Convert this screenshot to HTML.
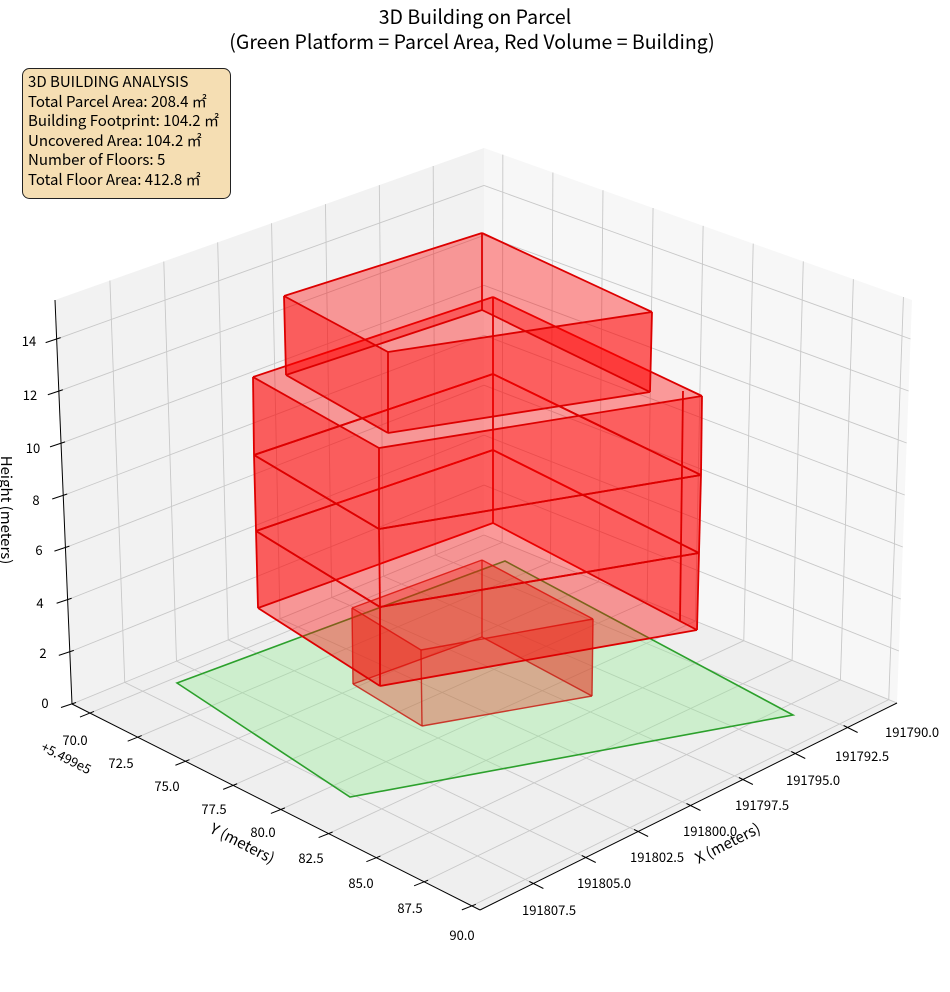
<!DOCTYPE html>
<html><head><meta charset="utf-8"><style>
html,body{margin:0;padding:0;background:#fff;}
svg{display:block;font-family:"Noto Sans CJK JP","Liberation Sans",sans-serif;}
</style></head><body>
<svg id="s" width="950" height="992" viewBox="0 0 950 992" xmlns="http://www.w3.org/2000/svg">
<g id="panes">
<polygon points="72,704 55,300 484,148 484,535" fill="#f2f2f2"/>
<polygon points="484,535 484,148 912,300 897,703" fill="#f7f7f7"/>
<polygon points="72,704 484,535 897,703 480,910" fill="#efefef"/>
</g>
<g id="grid" stroke="#c8c8c8" stroke-width="0.9" fill="none"></g>
<g id="axes" stroke="#000" stroke-width="1" fill="none">
<line x1="72" y1="704" x2="55" y2="300"/>
<line x1="72" y1="704" x2="480" y2="910"/>
<line x1="480" y1="910" x2="897" y2="703"/>
</g>
<g id="ticks" stroke="#000" stroke-width="1"></g>
<polygon points="177,683 505,561 793,715 350,797" fill="rgba(144,238,144,0.35)" stroke="#2ca02c" stroke-width="1.6"/>
<g id="boxes"></g>
<g font-size="13" fill="#000">
<text x="45" y="708" text-anchor="middle">0</text>
<text x="43" y="658" text-anchor="middle">2</text>
<text x="40" y="608" text-anchor="middle">4</text>
<text x="39" y="555" text-anchor="middle">6</text>
<text x="36" y="505" text-anchor="middle">8</text>
<text x="33" y="453" text-anchor="middle">10</text>
<text x="30" y="400" text-anchor="middle">12</text>
<text x="29" y="346" text-anchor="middle">14</text>
<text x="75" y="745" text-anchor="middle">70.0</text>
<text x="121" y="768" text-anchor="middle">72.5</text>
<text x="167" y="791" text-anchor="middle">75.0</text>
<text x="214" y="814" text-anchor="middle">77.5</text>
<text x="263" y="837" text-anchor="middle">80.0</text>
<text x="311" y="863" text-anchor="middle">82.5</text>
<text x="361" y="888" text-anchor="middle">85.0</text>
<text x="410" y="913" text-anchor="middle">87.5</text>
<text x="462" y="940" text-anchor="middle">90.0</text>
<text x="885" y="737">191790.0</text>
<text x="835" y="761">191792.5</text>
<text x="786" y="785">191795.0</text>
<text x="735" y="810">191797.5</text>
<text x="683" y="836">191800.0</text>
<text x="630" y="862">191802.5</text>
<text x="577" y="888">191805.0</text>
<text x="522" y="915">191807.5</text>
<text transform="translate(40,750) rotate(27)">+5.499e5</text>
</g>
<g font-size="15" fill="#000">
<text transform="translate(240,848) rotate(27)" text-anchor="middle">Y (meters)</text>
<text transform="translate(730,848) rotate(-27)" text-anchor="middle">X (meters)</text>
<text transform="translate(1,510) rotate(90)" text-anchor="middle">Height (meters)</text>
</g>
<g font-size="19.5" fill="#000" text-anchor="middle">
<text x="475" y="24">3D Building on Parcel</text>
<text x="472" y="49">(Green Platform = Parcel Area, Red Volume = Building)</text>
</g>
<rect x="22.5" y="68.5" width="208" height="130" rx="7" fill="#f5deb3" stroke="#222" stroke-width="1"/>
<g font-size="15" fill="#000">
<text x="28" y="87">3D BUILDING ANALYSIS</text>
<text x="28" y="107">Total Parcel Area: 208.4 ㎡</text>
<text x="28" y="126">Building Footprint: 104.2 ㎡</text>
<text x="28" y="146">Uncovered Area: 104.2 ㎡</text>
<text x="28" y="165">Number of Floors: 5</text>
<text x="28" y="185">Total Floor Area: 412.8 ㎡</text>
</g>
</svg>
<script>
var NS="http://www.w3.org/2000/svg";
function el(p,n,a){var e=document.createElementNS(NS,n);for(var k in a)e.setAttribute(k,a[k]);p.appendChild(e);return e;}
function lerp(a,b,t){return [a[0]+(b[0]-a[0])*t,a[1]+(b[1]-a[1])*t];}
var L=[72,704],B=[484,535],R=[897,703],F=[480,910],Lt=[55,300],Bt=[484,148],Rt=[912,300];
var g=document.getElementById('grid'),tk=document.getElementById('ticks');
function ln(p,a,b){el(p,'line',{x1:a[0],y1:a[1],x2:b[0],y2:b[1]});}
var ts=[];for(var i=0;i<8;i++)ts.push(0.128+0.1256*i);
ts.forEach(function(t){ if(t>0.99)return;
 ln(g,lerp(L,B,t),lerp(Lt,Bt,t)); ln(g,lerp(L,B,t),lerp(F,R,t));
 var p=lerp(F,R,t); ln(tk,[p[0]-4,p[1]-2],[p[0]+10,p[1]+5]);});
var ss=[];for(var i=0;i<9;i++)ss.push(0.044+0.117*i);
ss.forEach(function(s){
 ln(g,lerp(B,R,s),lerp(Bt,Rt,s)); ln(g,lerp(B,R,s),lerp(L,F,s));
 var p=lerp(L,F,s); ln(tk,[p[0]+4,p[1]-1.6],[p[0]-10,p[1]+4]);});
for(var z=0;z<=14;z+=2){var f=z/15.5;
 var pl=[72-17*f,704-404*f],pb=[484,535-387*f],pr=[897+15*f,703-403*f];
 ln(g,pl,pb);ln(g,pb,pr);ln(tk,[pl[0]+4,pl[1]-1.5],[pl[0]-11,pl[1]+3.5]);}
var bx=document.getElementById('boxes');
function box(top,bot,fill,stroke,sw){
 var order=[[1,2],[0,1],[2,3],[3,0]];
 order.forEach(function(o){var a=o[0],b=o[1];
  el(bx,'polygon',{points:[top[a],top[b],bot[b],bot[a]].map(function(p){return p.join(',')}).join(' '),fill:fill,stroke:'none'});});
 for(var i=0;i<4;i++){var j=(i+1)%4;ln2(top[i],top[j]);ln2(bot[i],bot[j]);ln2(top[i],bot[i]);}
 function ln2(a,b){el(bx,'line',{x1:a[0],y1:a[1],x2:b[0],y2:b[1],stroke:stroke,'stroke-width':sw});}
}
var red='rgba(255,0,0,0.38)';
box([[352,608],[482,560],[593,619],[421,650]],[[353,684],[482,637],[592,696],[422,726]],'rgba(230,40,20,0.33)','rgba(200,30,20,0.85)',1.4);
box([[256,531],[493,450],[699,553],[380,607]],[[258,608],[493,523],[697,630],[380,686]],red,'#dd0000',1.8);
box([[254,455],[493,374],[701,475],[379,529]],[[256,531],[493,450],[699,553],[380,607]],red,'#dd0000',1.8);
box([[253,377],[493,297],[702,396],[379,448]],[[254,455],[493,374],[701,475],[379,529]],red,'#dd0000',1.8);
el(bx,'line',{x1:683,y1:391,x2:680,y2:621,stroke:'#dd0000','stroke-width':1.8});
box([[284,296],[482,233],[652,312],[388,352]],[[286,375],[482,310],[650,392],[388,433]],red,'#dd0000',1.8);
</script>
</body></html>
